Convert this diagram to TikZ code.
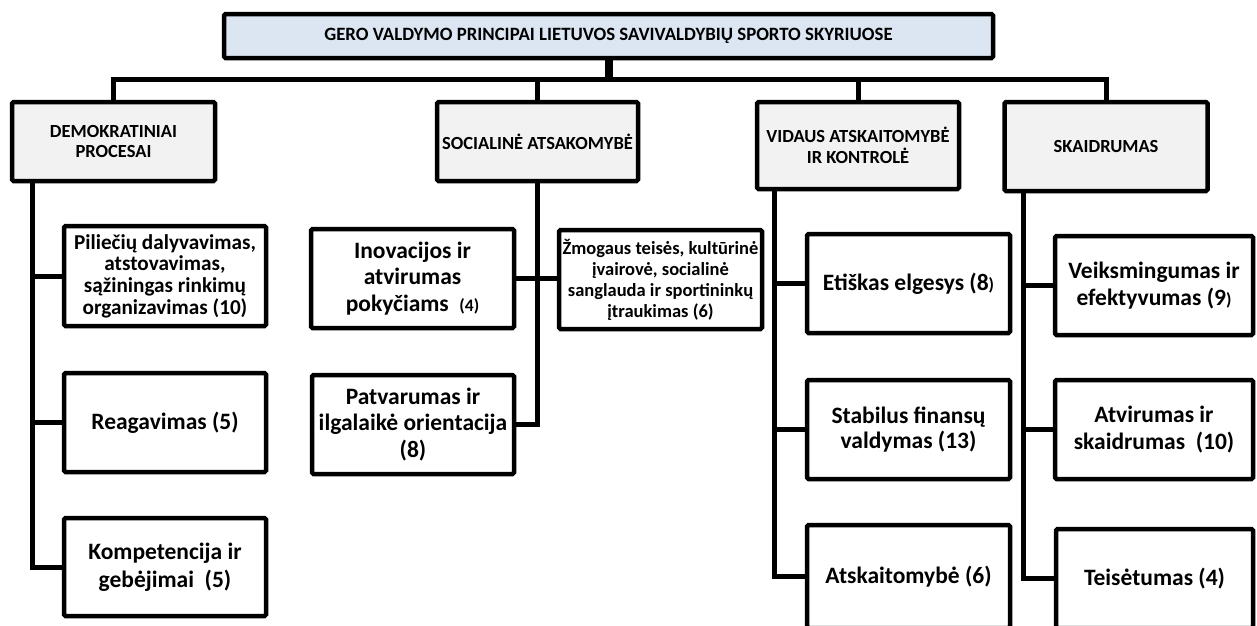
\documentclass[tikz,border=0pt]{standalone}
\usepackage{fontspec}
\setmainfont{Carlito}
\usetikzlibrary{calc}
\definecolor{titleblue}{HTML}{DCE6F2}
\definecolor{headgray}{HTML}{F2F2F2}
\tikzset{
  base/.style={draw=black, line width=4.5pt, rectangle, inner sep=0pt, align=center, rounded corners=1.5pt},
  titlebox/.style={base, fill=titleblue, font=\bfseries\fontsize{18.8}{21}\selectfont},
  headbox/.style={base, fill=headgray, font=\bfseries\fontsize{18.5}{20.5}\selectfont},
  leafbox/.style={base, fill=white, font=\bfseries\fontsize{23.5}{26.5}\selectfont},
  conn/.style={line width=5pt, line join=miter},
}
\begin{document}
\begin{tikzpicture}[x=1pt,y=-1pt]
\useasboundingbox (0,0) rectangle (1257,625);
\clip (0,0) rectangle (1257,625);
% title
\node[titlebox, minimum width=769pt, minimum height=44pt] (title) at (608.5,36) {GERO VALDYMO PRINCIPAI LIETUVOS SAVIVALDYBIŲ SPORTO SKYRIUOSE};
% headers
\node[headbox, minimum width=203pt, minimum height=79pt] (hdemo) at (113.5,141.5) {DEMOKRATINIAI\\PROCESAI};
\node[headbox, minimum width=201pt, minimum height=79pt] (hsoc) at (537.5,141.5) {SOCIALINĖ ATSAKOMYBĖ};
\node[headbox, minimum width=202pt, minimum height=87pt] (hvid) at (858,145.5) {VIDAUS ATSKAITOMYBĖ\\IR KONTROLĖ};
\node[headbox, minimum width=203pt, minimum height=89pt] (hska) at (1106,146.5) {SKAIDRUMAS};
% column 1
\node[leafbox, minimum width=202pt, minimum height=100pt, font=\bfseries\fontsize{21.2}{21.7}\selectfont] (L1) at (165,276) {Piliečių dalyvavimas,\\atstovavimas,\\sąžiningas rinkimų\\organizavimas (10)};
\node[leafbox, minimum width=202pt, minimum height=99pt] (L2) at (165,422.5) {Reagavimas (5)};
\node[leafbox, minimum width=202pt, minimum height=98pt, font=\bfseries\fontsize{23.5}{28.5}\selectfont] (L3) at (165,567) {Kompetencija ir\\gebėjimai\ \ (5)};
% column 2
\node[leafbox, minimum width=203pt, minimum height=99pt] (S1) at (412.5,278.5) {Inovacijos ir\\atvirumas\\pokyčiams\ \ {\fontsize{17.5}{20}\selectfont(4)}};
\node[leafbox, minimum width=203pt, minimum height=99pt, font=\bfseries\fontsize{18.5}{21}\selectfont] (S2) at (660.5,279.5) {Žmogaus teisės, kultūrinė\\įvairovė, socialinė\\sanglauda ir sportininkų\\įtraukimas (6)};
\node[leafbox, minimum width=202pt, minimum height=99pt] (S3) at (413,424.5) {Patvarumas ir\\ilgalaikė orientacija\\(8)};
% column 3
\node[leafbox, minimum width=203pt, minimum height=99pt] (V1) at (908.5,283.5) {Etiškas elgesys (8{\fontsize{17.5}{20}\selectfont)}};
\node[leafbox, minimum width=203pt, minimum height=99pt, font=\bfseries\fontsize{23.5}{24.5}\selectfont] (V2) at (908.5,429.5) {Stabilus finansų\\valdymas (13)};
\node[leafbox, minimum width=203pt, minimum height=103pt] (V3) at (908.5,576.5) {Atskaitomybė (6)};
% column 4
\node[leafbox, minimum width=198pt, minimum height=99pt] (K1) at (1154,285.5) {Veiksmingumas ir\\efektyvumas (9{\fontsize{17.5}{20}\selectfont)}};
\node[leafbox, minimum width=198pt, minimum height=99pt] (K2) at (1154,429.5) {Atvirumas ir\\skaidrumas\ \ (10)};
\node[leafbox, minimum width=197pt, minimum height=99pt] (K3) at (1154.5,578.5) {Teisėtumas (4)};
% connector helper coordinates
\coordinate (hl) at (0,79);
\coordinate (dv) at (32,0);
\coordinate (vv) at (774,0);
\coordinate (kv) at (1023,0);
% top connectors
\draw[line width=8pt] (title.south) -- (title.south |- hl);
\draw[conn] (hdemo.north) |- (hl -| hska.north) -- (hska.north);
\draw[conn] (hsoc.north) -- (hsoc.north |- hl);
\draw[conn] (hvid.north) -- (hvid.north |- hl);
% column 1
\draw[conn] (hdemo.south -| dv) |- (L3.west);
\draw[conn] (L1.west) -- (L1.west -| dv);
\draw[conn] (L2.west) -- (L2.west -| dv);
% column 2
\draw[conn] (hsoc.south) |- (S3.east);
\draw[conn] (S1.east) -- (S1.east -| S2.west);
% column 3
\draw[conn] (hvid.south -| vv) |- (V3.west);
\draw[conn] (V1.west) -- (V1.west -| vv);
\draw[conn] (V2.west) -- (V2.west -| vv);
% column 4
\draw[conn] (hska.south -| kv) |- (K3.west);
\draw[conn] (K1.west) -- (K1.west -| kv);
\draw[conn] (K2.west) -- (K2.west -| kv);
\end{tikzpicture}
\end{document}
